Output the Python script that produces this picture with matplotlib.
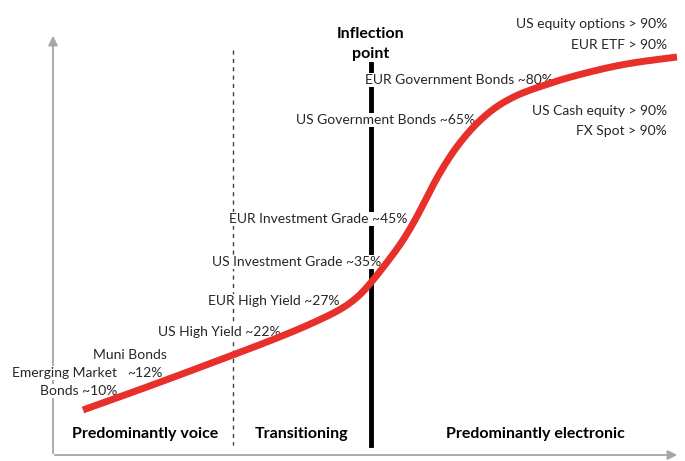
import numpy as np
import matplotlib.pyplot as plt

plt.rcParams['font.family'] = ['Lato', 'DejaVu Sans']

# adoption curve (pixel coords, y down)
curve_x = [83, 150, 233, 280, 313, 340, 357, 370, 385, 400, 410, 420, 435, 450,
           465, 480, 497, 515, 530, 545, 563, 597, 630, 677]
curve_y = [410, 386, 355, 337, 323, 310, 298, 284, 265, 245, 229, 211, 181, 156,
           136, 120, 106, 96, 90, 85, 79, 70, 63, 57]

labels = ["EUR Government Bonds ~80%", "US Government Bonds ~65%",
          "EUR Investment Grade ~45%", "US Investment Grade ~35%",
          "EUR High Yield ~27%", "US High Yield ~22%", "Muni Bonds", "~12%",
          "Emerging Market", "Bonds ~10%"]
label_x = [365, 296, 229, 212, 208, 158, 93, 163, 117, 117]
label_y = [80, 120, 219, 262, 301, 332, 355, 373, 373, 391]
label_ha = ["left", "left", "left", "left", "left", "left", "left", "right", "right", "right"]

right_labels = ["US equity options > 90%", "EUR ETF > 90%", "US Cash equity > 90%", "FX Spot > 90%"]
right_y = [24, 45, 111, 131]

zones = ["Predominantly voice", "Transitioning", "Predominantly electronic"]
zone_x = [145, 302, 535]


def chaikin(x, y, n=4):
    p = np.column_stack([x, y]).astype(float)
    for _ in range(n):
        q = 0.75 * p[:-1] + 0.25 * p[1:]
        r = 0.25 * p[:-1] + 0.75 * p[1:]
        mid = np.empty((2 * len(q), 2))
        mid[0::2] = q
        mid[1::2] = r
        p = np.vstack([p[:1], mid, p[-1:]])
    return p[:, 0], p[:, 1]


fig = plt.figure(figsize=(6.85, 4.61), dpi=100)
ax = fig.add_axes([0, 0, 1, 1])
ax.set_xlim(0, 685)
ax.set_ylim(461, 0)
ax.axis('off')

grey = '#a6a6a6'
ax.annotate('', xy=(53, 33), xytext=(53, 456),
            arrowprops=dict(arrowstyle='-|>', color=grey, lw=1.3, mutation_scale=14))
ax.annotate('', xy=(680, 455), xytext=(52, 455),
            arrowprops=dict(arrowstyle='-|>', color=grey, lw=1.3, mutation_scale=14))

ax.plot([233, 233], [50, 445], color='#404040', lw=1, ls=(0, (3, 3)))
ax.plot([371, 371], [64, 445], color='black', lw=3.5)

sx, sy = chaikin(curve_x, curve_y)
ax.plot(sx, sy, color='#e8302a', lw=5, solid_capstyle='butt', zorder=5)

txt = '#262626'
for t, x, y, ha in zip(labels, label_x, label_y, label_ha):
    ax.text(x, y, t, ha=ha, va='center', fontsize=10, color=txt, zorder=4,
            bbox=dict(facecolor='white', edgecolor='none', pad=1))
for t, y in zip(right_labels, right_y):
    ax.text(667, y, t, ha='right', va='center', fontsize=10, color=txt, zorder=4)

ax.text(371, 44, "Inflection\npoint", ha='center', va='center', fontsize=11.5,
        fontweight='bold', linespacing=1.5, color='black', zorder=4,
        bbox=dict(facecolor='white', edgecolor='none', pad=1))
for t, x in zip(zones, zone_x):
    ax.text(x, 434, t, ha='center', va='center', fontsize=11.5, fontweight='bold',
            color='black', zorder=4, bbox=dict(facecolor='white', edgecolor='none', pad=2))

fig.savefig('out.png', dpi=100)
